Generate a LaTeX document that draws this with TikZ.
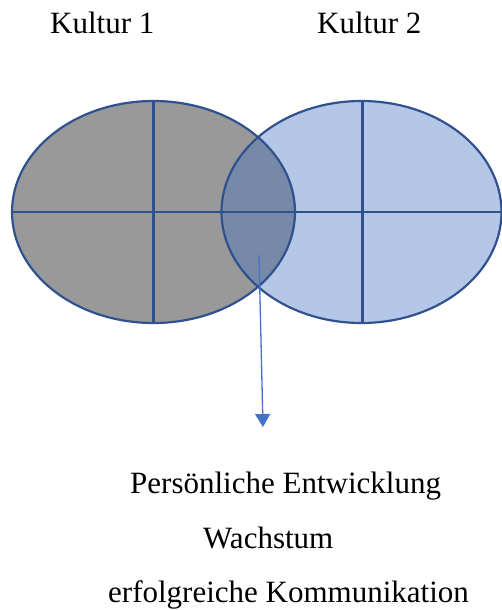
\documentclass[tikz,border=0pt]{standalone}
\usepackage{fontspec}
\setmainfont{Liberation Serif}
\usetikzlibrary{arrows.meta}
\definecolor{grayfill}{RGB}{153,153,153}
\definecolor{bluefill}{RGB}{180,199,231}
\definecolor{overlapfill}{RGB}{119,137,168}
\definecolor{edge}{RGB}{47,82,143}
\definecolor{arrowblue}{RGB}{68,114,196}
\tikzset{
  lbl/.style={anchor=base west, inner sep=0pt, font=\fontsize{31}{37}\selectfont},
  outline/.style={draw=edge, line width=2.2pt},
  pointer/.style={draw=arrowblue, line width=1.3pt, -{Triangle[length=13pt,width=15pt]}}
}
\begin{document}
\begin{tikzpicture}[x=1pt,y=-1pt]
\useasboundingbox (0,0) rectangle (502,610);
% fills
\fill[grayfill] (153.5,212) ellipse [x radius=141.5, y radius=111];
\fill[bluefill] (361.5,212) ellipse [x radius=140, y radius=111];
\begin{scope}
  \clip (153.5,212) ellipse [x radius=141.5, y radius=111];
  \fill[overlapfill] (361.5,212) ellipse [x radius=140, y radius=111];
\end{scope}
% left ellipse
\draw[outline] (153.5,212) ellipse [x radius=141.5, y radius=111];
\draw[outline] (153.5,101) -- (153.5,323);
\draw[outline] (12,212) -- (295,212);
% right ellipse
\draw[outline] (361.5,212) ellipse [x radius=140, y radius=111];
\draw[outline] (362.5,101) -- (362.5,323);
\draw[outline] (221,212) -- (502,212);
% labels
\node[lbl] (k1) at (50,34) {Kultur 1};
\node[lbl] (k2) at (317,34) {Kultur 2};
\node[lbl] (t1) at (130,493) {Persönliche Entwicklung};
\node[lbl] (t2) at (203,548) {Wachstum};
\node[lbl] (t3) at (108,602) {erfolgreiche Kommunikation};
% arrow
\coordinate (as) at (259,255);
\coordinate (ae) at (263,427);
\draw[pointer] (as) -- (ae);
\end{tikzpicture}
\end{document}
